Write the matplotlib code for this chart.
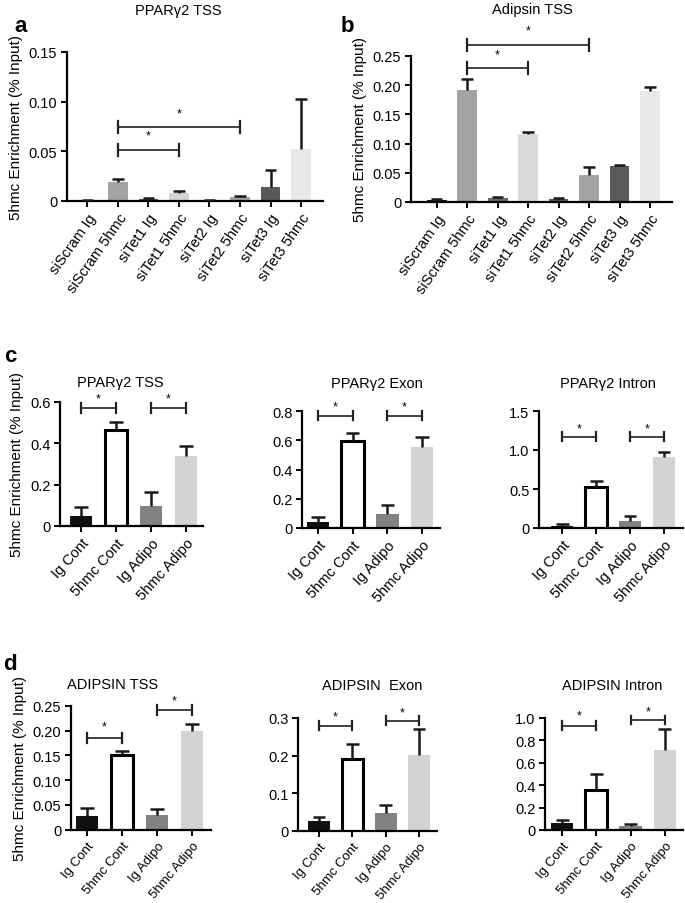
import matplotlib
matplotlib.use("Agg")
import matplotlib.pyplot as plt
import numpy as np

plt.rcParams['font.family'] = ['Liberation Sans', 'DejaVu Sans']
plt.rcParams['font.size'] = 10

W, H = 685, 904

# ---------------- data ----------------
si_labels = ['siScram Ig', 'siScram 5hmc', 'siTet1 Ig', 'siTet1 5hmc',
             'siTet2 Ig', 'siTet2 5hmc', 'siTet3 Ig', 'siTet3 5hmc']

pparg_tss_si = [0.001, 0.019, 0.002, 0.008, 0.001, 0.004, 0.014, 0.052]
pparg_tss_si_err = [0.0005, 0.003, 0.0008, 0.002, 0.0005, 0.001, 0.017, 0.051]
pparg_tss_si_colors = ['#111111', '#a3a3a3', '#555555', '#d4d4d4',
                       '#222222', '#a3a3a3', '#5a5a5a', '#e8e8e8']

adipsin_tss_si = [0.003, 0.192, 0.007, 0.117, 0.005, 0.047, 0.061, 0.190]
adipsin_tss_si_err = [0.002, 0.018, 0.001, 0.003, 0.002, 0.013, 0.003, 0.007]
adipsin_tss_si_colors = ['#111111', '#a3a3a3', '#6a6a6a', '#d9d9d9',
                         '#5a5a5a', '#a3a3a3', '#5a5a5a', '#e8e8e8']

adipo_labels = ['Ig Cont', '5hmc Cont', 'Ig Adipo', '5hmc Adipo']
adipo_colors = ['#111111', '#ffffff', '#828282', '#d3d3d3']

pparg_tss = [0.048, 0.465, 0.096, 0.340]
pparg_tss_err = [0.042, 0.038, 0.066, 0.048]
pparg_exon = [0.043, 0.592, 0.096, 0.553]
pparg_exon_err = [0.030, 0.057, 0.059, 0.071]
pparg_intron = [0.021, 0.521, 0.085, 0.906]
pparg_intron_err = [0.030, 0.086, 0.065, 0.064]

adipsin_tss = [0.028, 0.150, 0.030, 0.198]
adipsin_tss_err = [0.016, 0.008, 0.011, 0.016]
adipsin_exon = [0.027, 0.191, 0.046, 0.202]
adipsin_exon_err = [0.009, 0.039, 0.023, 0.070]
adipsin_intron = [0.060, 0.360, 0.036, 0.714]
adipsin_intron_err = [0.032, 0.137, 0.015, 0.191]

# significance brackets: (from bar, to bar, bracket y, star y)
sig_a = [(1, 3, 0.0516, 0.066), (1, 5, 0.0749, 0.088)]
sig_b = [(1, 3, 0.230, 0.253), (1, 5, 0.269, 0.293)]
sig_c_tss = [(0, 1, 0.570, 0.616), (2, 3, 0.570, 0.616)]
sig_c_exon = [(0, 1, 0.768, 0.832), (2, 3, 0.768, 0.832)]
sig_c_intron = [(0, 1, 1.171, 1.28), (2, 3, 1.171, 1.28)]
sig_d_tss = [(0, 1, 0.185, 0.209), (2, 3, 0.242, 0.261)]
sig_d_exon = [(0, 1, 0.280, 0.304), (2, 3, 0.293, 0.315)]
sig_d_intron = [(0, 1, 0.932, 1.02), (2, 3, 0.982, 1.057)]

fig = plt.figure(figsize=(W / 100, H / 100), dpi=100)


def px_axes(left, top, right, bottom):
    return fig.add_axes([left / W, 1 - bottom / H, (right - left) / W, (bottom - top) / H])


def px_text(x, y, s, **kw):
    fig.text(x / W, 1 - y / H, s, ha='center', va='center', **kw)


def draw_panel(ax, labels, vals, errs, colors, sigs, ylim, yticks, yticklabels,
               xlim, rot=50, xfs=10.5, width=0.65, cap=0.19):
    x = np.arange(len(vals))
    for i in range(len(vals)):
        if colors[i] == '#ffffff':
            ax.bar(x[i], vals[i], width=width, color='white', edgecolor='black',
                   linewidth=2.2, zorder=2)
        else:
            ax.bar(x[i], vals[i], width=width, color=colors[i], edgecolor='none', zorder=2)
        top = vals[i] + errs[i]
        # upper error bar only
        ax.plot([x[i], x[i]], [vals[i], top], color='#1a1a1a', lw=1.8, zorder=3,
                solid_capstyle='butt')
        ax.plot([x[i] - cap, x[i] + cap], [top, top], color='#1a1a1a', lw=1.8, zorder=3,
                solid_capstyle='butt')
    dy = (ylim[1] - ylim[0]) * 0.04
    for a, b, yb, ys in sigs:
        ax.plot([a, b], [yb, yb], color='#333333', lw=1.3, clip_on=False, zorder=4)
        for e in (a, b):
            ax.plot([e, e], [yb - dy, yb + dy], color='#222222', lw=1.6, clip_on=False, zorder=4)
        ax.text((a + b) / 2, ys, '*', ha='center', va='center', fontsize=9, clip_on=False)
    ax.set_xlim(*xlim)
    ax.set_ylim(*ylim)
    ax.set_yticks(yticks)
    ax.set_yticklabels(yticklabels, fontsize=10.5)
    ax.set_xticks(x)
    ax.set_xticklabels(labels, rotation=rot, ha='right', rotation_mode='anchor', fontsize=xfs)
    for s in ['top', 'right']:
        ax.spines[s].set_visible(False)
    for s in ['left', 'bottom']:
        ax.spines[s].set_linewidth(1.6)
    ax.tick_params(axis='both', width=1.4, length=4, direction='out', pad=3)


# panel a
ax_a = px_axes(67, 53, 323, 202)
draw_panel(ax_a, si_labels, pparg_tss_si, pparg_tss_si_err, pparg_tss_si_colors, sig_a,
           (0, 0.15), [0, 0.05, 0.10, 0.15], ['0', '0.05', '0.10', '0.15'],
           (-0.67, 7.72), rot=55)
ax_a.set_ylabel('5hmc Enrichment (% Input)', fontsize=11)
px_text(178, 11, 'PPAR\u03b32 TSS', fontsize=10.5)

# panel b
ax_b = px_axes(411, 57, 672, 203)
draw_panel(ax_b, si_labels, adipsin_tss_si, adipsin_tss_si_err, adipsin_tss_si_colors, sig_b,
           (0, 0.25), [0, 0.05, 0.10, 0.15, 0.20, 0.25],
           ['0', '0.05', '0.10', '0.15', '0.20', '0.25'],
           (-0.84, 7.72), rot=55)
ax_b.set_ylabel('5hmc Enrichment (% Input)', fontsize=11)
px_text(532, 10, 'Adipsin TSS', fontsize=10.5)

# panel c
ax_c1 = px_axes(60, 402.7, 203, 527)
draw_panel(ax_c1, adipo_labels, pparg_tss, pparg_tss_err, adipo_colors, sig_c_tss,
           (0, 0.6), [0, 0.2, 0.4, 0.6], ['0', '0.2', '0.4', '0.6'],
           (-0.6, 3.49), rot=48)
ax_c1.set_ylabel('5hmc Enrichment (% Input)', fontsize=11)
px_text(120, 383, 'PPAR\u03b32 TSS', fontsize=10.5)

ax_c2 = px_axes(302, 412, 440, 529)
draw_panel(ax_c2, adipo_labels, pparg_exon, pparg_exon_err, adipo_colors, sig_c_exon,
           (0, 0.8), [0, 0.2, 0.4, 0.6, 0.8], ['0', '0.2', '0.4', '0.6', '0.8'],
           (-0.46, 3.52), rot=48)
px_text(377, 384, 'PPAR\u03b32 Exon', fontsize=10.5)

ax_c3 = px_axes(539, 412, 683, 529)
draw_panel(ax_c3, adipo_labels, pparg_intron, pparg_intron_err, adipo_colors, sig_c_intron,
           (0, 1.5), [0, 0.5, 1.0, 1.5], ['0', '0.5', '1.0', '1.5'],
           (-0.68, 3.56), rot=48)
px_text(608, 384, 'PPAR\u03b32 Intron', fontsize=10.5)

# panel d
ax_d1 = px_axes(71, 706.7, 211, 830.7)
draw_panel(ax_d1, adipo_labels, adipsin_tss, adipsin_tss_err, adipo_colors, sig_d_tss,
           (0, 0.25), [0, 0.05, 0.10, 0.15, 0.20, 0.25],
           ['0', '0.05', '0.10', '0.15', '0.20', '0.25'],
           (-0.46, 3.54), rot=50, xfs=9.5)
ax_d1.set_ylabel('5hmc Enrichment (% Input)', fontsize=11)
px_text(113, 685, 'ADIPSIN TSS', fontsize=10.5)

ax_d2 = px_axes(298, 719, 437, 831.7)
draw_panel(ax_d2, adipo_labels, adipsin_exon, adipsin_exon_err, adipo_colors, sig_d_exon,
           (0, 0.3), [0, 0.1, 0.2, 0.3], ['0', '0.1', '0.2', '0.3'],
           (-0.63, 3.54), rot=50, xfs=9.5)
px_text(372, 686, 'ADIPSIN  Exon', fontsize=10.5)

ax_d3 = px_axes(545, 719, 683, 831)
draw_panel(ax_d3, adipo_labels, adipsin_intron, adipsin_intron_err, adipo_colors, sig_d_intron,
           (0, 1.0), [0, 0.2, 0.4, 0.6, 0.8, 1.0], ['0', '0.2', '0.4', '0.6', '0.8', '1.0'],
           (-0.5, 3.53), rot=50, xfs=9.5)
px_text(612, 686, 'ADIPSIN Intron', fontsize=10.5)

# panel letters
for letter, xp, yp in [('a', 21, 27), ('b', 347, 27), ('c', 10, 357), ('d', 10, 665)]:
    px_text(xp, yp, letter, fontsize=16, fontweight='bold')

fig.savefig('out.png', dpi=100)
